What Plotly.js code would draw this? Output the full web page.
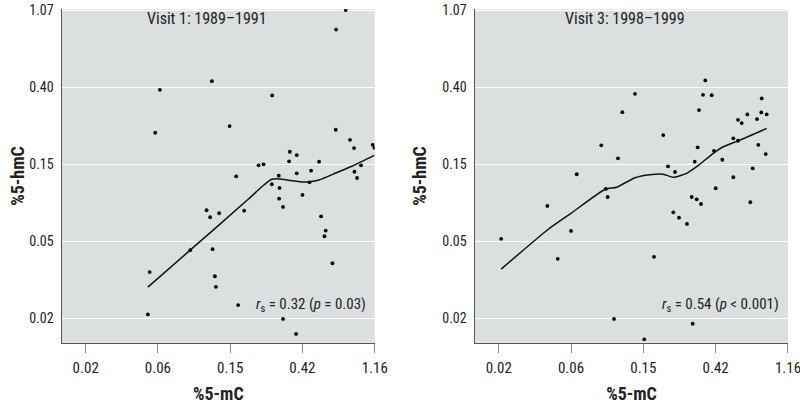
<!DOCTYPE html>
<html>
<head>
<meta charset="utf-8">
<script src="https://cdn.plot.ly/plotly-3.0.1.min.js"></script>
<style>html,body{margin:0;padding:0;background:#fff;}#chart{width:800px;height:404px;}</style>
</head>
<body>
<div id="chart"></div>
<script>
// Tick labels (axes are log-scaled; labels sit at equal log steps)
const xTickText = ['0.02', '0.06', '0.15', '0.42', '1.16'];
const xTickVals = [0.02, 0.05518, 0.1523, 0.4201, 1.16];
const yTickText = ['0.02', '0.05', '0.15', '0.40', '1.07'];
const yTickVals = [0.02, 0.05409, 0.1463, 0.3957, 1.07];

// Visit 1: 1989–1991 scatter (%5-mC, %5-hmC)
const v1X = [0.772, 0.674, 0.1177, 0.0567, 0.2745, 0.151, 0.0531, 0.671, 0.820, 0.868,
  1.128, 1.155, 0.352, 0.388, 0.3484, 0.531, 0.2268, 0.2433, 0.957, 0.3015,
  0.1656, 0.4745, 0.388, 0.8726, 0.905, 0.2734, 0.4638, 0.3045, 0.4205, 0.3029,
  0.320, 0.1093, 0.1149, 0.1304, 0.1853, 0.546, 0.583, 0.5727, 0.0868, 0.1189,
  0.6407, 0.0491, 0.1228, 0.1246, 0.1703, 0.0479, 0.320, 0.3844];
const v1Y = [1.078, 0.837, 0.4293, 0.3837, 0.3569, 0.240, 0.2202, 0.2289, 0.2011, 0.1806,
  0.1885, 0.1814, 0.1722, 0.1650, 0.1522, 0.1514, 0.1445, 0.1463, 0.1445, 0.1263,
  0.1254, 0.1348, 0.1303, 0.1330, 0.1226, 0.1131, 0.1160, 0.1078, 0.0985, 0.0939,
  0.0843, 0.0808, 0.0738, 0.0777, 0.0804, 0.0747, 0.0621, 0.0577, 0.0482, 0.0488,
  0.0407, 0.0363, 0.0344, 0.0300, 0.0237, 0.0210, 0.0198, 0.0163];
// Visit 1 smoothed (lowess) curve
const v1FitX = [0.0479, 0.0868, 0.196, 0.2443, 0.2734, 0.3059, 0.352, 0.4049, 0.4659, 0.531, 0.678, 0.8555, 1.155];
const v1FitY = [0.0299, 0.0482, 0.0931, 0.1120, 0.1206, 0.1211, 0.1188, 0.1169, 0.1169, 0.1195, 0.1313, 0.1438, 0.1644];

// Visit 3: 1998–1999 scatter
const v3X = [0.3634, 0.1355, 0.352, 0.3975, 0.802, 0.1134, 0.3327, 0.7977, 0.8604, 0.6553,
  0.5752, 0.7509, 0.6058, 0.2015, 0.5384, 0.5752, 0.0844, 0.3266, 0.7647, 0.4106,
  0.8484, 0.1067, 0.4613, 0.3132, 0.2153, 0.7068, 0.2375, 0.0598, 0.5384, 0.4205,
  0.0898, 0.0923, 0.3002, 0.3221, 0.0396, 0.3421, 0.6836, 0.2319, 0.2513, 0.2811,
  0.0552, 0.0207, 0.0458, 0.1769, 0.1009, 0.3045, 0.1543];
const v3Y = [0.4332, 0.3643, 0.3597, 0.3583, 0.3433, 0.2876, 0.2952, 0.2865, 0.2793, 0.2793,
  0.2604, 0.2628, 0.2495, 0.2137, 0.2048, 0.1986, 0.1871, 0.1823, 0.1885, 0.1744,
  0.1671, 0.1581, 0.1553, 0.1514, 0.1427, 0.1390, 0.1325, 0.1287, 0.1238, 0.1074,
  0.1064, 0.0959, 0.0959, 0.0931, 0.0854, 0.0876, 0.0896, 0.0787, 0.0734, 0.0677,
  0.0618, 0.0558, 0.0431, 0.0442, 0.0198, 0.0186, 0.0152];
const v3FitX = [0.0207, 0.0396, 0.0552, 0.0898, 0.1048, 0.1355, 0.1672, 0.2015, 0.2319, 0.2799, 0.3221, 0.4066, 0.4679, 0.5914, 0.8604];
const v3FitY = [0.0377, 0.0626, 0.0777, 0.1064, 0.1089, 0.1231, 0.1280, 0.1287, 0.1238, 0.1303, 0.1419, 0.1687, 0.1837, 0.2003, 0.2331];

const panelTitles = ['Visit 1: 1989–1991', 'Visit 3: 1998–1999'];
const statTexts = ['<i>r</i><sub>s</sub> = 0.32 (<i>p</i> = 0.03)', '<i>r</i><sub>s</sub> = 0.54 (<i>p</i> < 0.001)'];
const xTitle = '%5-mC';
const yTitle = '%5-hmC';

const FONT = '"Roboto Condensed", "Liberation Sans Narrow", Roboto, sans-serif';

const traces = [
  {x: v1X, y: v1Y, type: 'scatter', mode: 'markers', marker: {color: '#000', size: 3.8}, xaxis: 'x', yaxis: 'y', hoverinfo: 'x+y'},
  {x: v1FitX, y: v1FitY, type: 'scatter', mode: 'lines', line: {color: '#111', width: 1.5, shape: 'spline', smoothing: 0.6}, xaxis: 'x', yaxis: 'y'},
  {x: v3X, y: v3Y, type: 'scatter', mode: 'markers', marker: {color: '#000', size: 3.8}, xaxis: 'x2', yaxis: 'y2', hoverinfo: 'x+y'},
  {x: v3FitX, y: v3FitY, type: 'scatter', mode: 'lines', line: {color: '#111', width: 1.5, shape: 'spline', smoothing: 0.6}, xaxis: 'x2', yaxis: 'y2'}
];

function xAxis(domain, anchor) {
  return {
    type: 'log', domain: domain, anchor: anchor, range: [-1.8435, 0.0645],
    tickmode: 'array', tickvals: xTickVals, ticktext: xTickText,
    showgrid: false, zeroline: false, showline: true, linecolor: '#555', linewidth: 1.5,
    ticks: 'outside', ticklen: 9, tickwidth: 1, tickcolor: '#888', ticklabelstandoff: 2,
    ticklabeloverflow: 'allow',
    tickfont: {family: FONT, size: 15, color: '#222'},
    title: {text: '<b>' + xTitle + '</b>', font: {family: FONT, size: 18, color: '#222'}, standoff: 13},
    automargin: false, fixedrange: true
  };
}
function yAxis(anchor, standoff) {
  return {
    type: 'log', domain: [0.1517, 0.977], anchor: anchor, range: [-1.837, 0.0367],
    tickmode: 'array', tickvals: yTickVals, ticktext: yTickText,
    showgrid: true, gridcolor: '#ffffff', gridwidth: 1.2, zeroline: false,
    showline: true, linecolor: '#555', linewidth: 1.5, ticks: '', ticklabelstandoff: 4,
    ticklabeloverflow: 'allow',
    tickfont: {family: FONT, size: 14, color: '#222'},
    title: {text: '<b>' + yTitle + '</b>', font: {family: FONT, size: 18, color: '#222'}, standoff: standoff},
    automargin: false, fixedrange: true
  };
}

const layout = {
  width: 800, height: 404,
  margin: {l: 0, r: 0, t: 0, b: 0},
  paper_bgcolor: '#ffffff', plot_bgcolor: '#dcdfe0',
  showlegend: false,
  font: {family: FONT, color: '#222'},
  xaxis: xAxis([0.0775, 0.4684], 'y'),
  yaxis: yAxis('x', 0),
  xaxis2: xAxis([0.59375, 0.985], 'y2'),
  yaxis2: yAxis('x2', 11),
  annotations: [
    {xref: 'paper', yref: 'paper', x: 207 / 800, y: 1 - 18 / 404, text: panelTitles[0], showarrow: false, xanchor: 'center', yanchor: 'middle', font: {family: FONT, size: 16, color: '#222'}},
    {xref: 'paper', yref: 'paper', x: 625 / 800, y: 1 - 18 / 404, text: panelTitles[1], showarrow: false, xanchor: 'center', yanchor: 'middle', font: {family: FONT, size: 16, color: '#222'}},
    {xref: 'paper', yref: 'paper', x: 368 / 800, y: 1 - 305 / 404, text: statTexts[0], showarrow: false, xanchor: 'right', yanchor: 'middle', font: {family: FONT, size: 15, color: '#222'}},
    {xref: 'paper', yref: 'paper', x: 781 / 800, y: 1 - 305 / 404, text: statTexts[1], showarrow: false, xanchor: 'right', yanchor: 'middle', font: {family: FONT, size: 15, color: '#222'}}
  ]
};

Plotly.newPlot('chart', traces, layout, {displayModeBar: false, staticPlot: true});
</script>
</body>
</html>
